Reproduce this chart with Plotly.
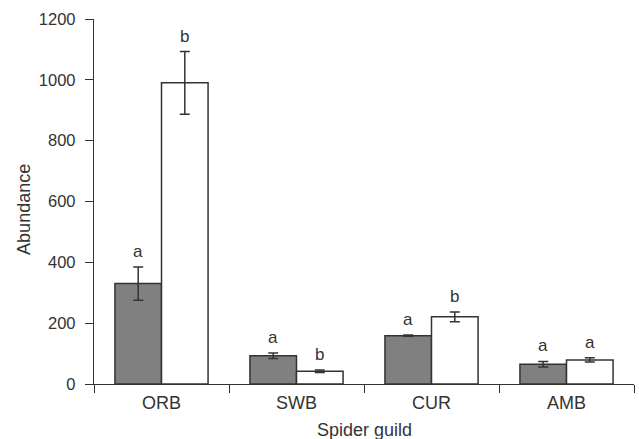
import plotly.graph_objects as go

guilds = ["ORB", "SWB", "CUR", "AMB"]
grey_vals = [330, 93, 159, 65]
grey_err = [55, 9, 2, 9]
white_vals = [990, 42, 221, 79]
white_err = [103, 4, 16, 7]
grey_letters = ["a", "a", "a", "a"]
white_letters = ["b", "b", "b", "a"]

dark = "#333333"
font_fam = "Liberation Sans, Arial, sans-serif"

fig = go.Figure()
fig.add_trace(go.Bar(
    x=guilds, y=grey_vals, name="grey",
    marker=dict(color="#808080", line=dict(color=dark, width=1.5)),
    error_y=dict(type="data", array=grey_err, color=dark, thickness=1.5, width=5),
))
fig.add_trace(go.Bar(
    x=guilds, y=white_vals, name="white",
    marker=dict(color="#ffffff", line=dict(color=dark, width=1.5)),
    error_y=dict(type="data", array=white_err, color=dark, thickness=1.5, width=5),
))

bargap = 0.31
half = (1 - bargap) / 4
for i, g in enumerate(guilds):
    fig.add_annotation(x=i - half, y=grey_vals[i] + grey_err[i], xref="x", yref="y",
                       text=grey_letters[i], showarrow=False, yanchor="bottom", yshift=4,
                       font=dict(size=17, color=dark, family=font_fam))
    fig.add_annotation(x=i + half, y=white_vals[i] + white_err[i], xref="x", yref="y",
                       text=white_letters[i], showarrow=False, yanchor="bottom", yshift=4,
                       font=dict(size=17, color=dark, family=font_fam))

# axis titles as annotations for precise placement
fig.add_annotation(x=0.5, y=0, xref="paper", yref="paper", text="Spider guild",
                   showarrow=False, yanchor="middle", yshift=-46,
                   font=dict(size=18, color=dark, family=font_fam))
fig.add_annotation(x=0, y=0.477, xref="paper", yref="paper", text="Abundance",
                   showarrow=False, textangle=-90, xanchor="center", xshift=-70,
                   font=dict(size=18, color=dark, family=font_fam))

fig.update_layout(
    width=639, height=439,
    margin=dict(l=94, r=5, t=19, b=55),
    plot_bgcolor="white", paper_bgcolor="white",
    barmode="group", bargap=bargap, bargroupgap=0,
    showlegend=False,
    font=dict(family=font_fam, size=16, color=dark),
)
fig.update_xaxes(
    type="category", tickson="boundaries", ticks="outside", ticklen=8, tickwidth=1.3,
    tickcolor=dark, showline=True, linecolor=dark, linewidth=1.3, showgrid=False,
    tickfont=dict(size=18, color=dark), ticklabelstandoff=2, automargin=False,
)
fig.update_yaxes(
    range=[0, 1200], tickvals=[0, 200, 400, 600, 800, 1000, 1200],
    ticks="outside", ticklen=8, tickwidth=1.3, tickcolor=dark,
    showline=True, linecolor=dark, linewidth=1.3, showgrid=False, zeroline=False,
    tickfont=dict(size=16.5, color=dark), ticklabelstandoff=6, automargin=False,
)

fig.write_html("out.html")
